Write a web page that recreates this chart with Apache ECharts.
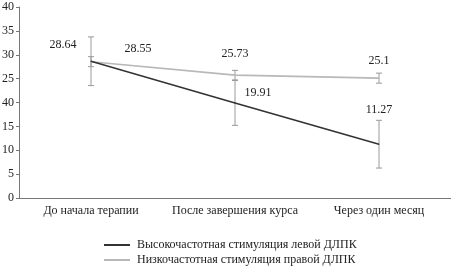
<!DOCTYPE html>
<html><head><meta charset="utf-8">
<script src="https://cdn.jsdelivr.net/npm/echarts@6/dist/echarts.min.js"></script>
<style>html,body{margin:0;padding:0;background:#fff}#c{width:451px;height:269px}</style>
</head><body><div id="c"></div>
<script>
var categories = ['До начала терапии', 'После завершения курса', 'Через один месяц'];
var seriesNames = ['Высокочастотная стимуляция левой ДЛПК', 'Низкочастотная стимуляция правой ДЛПК'];
var highValues = [28.64, 19.91, 11.27];
var lowValues = [28.55, 25.73, 25.1];
var highErr = [5.1, 4.7, 5.0];
var lowErr = [1.05, 1.0, 1.05];
var yTickLabels = ['0', '5', '10', '15', '40', '25', '30', '35', '40'];

var FONT = "'Liberation Serif', 'Times New Roman', serif";
var highOffsets = [[-28, -16], [23, -10], [0, -34]];
var lowOffsets = [[47, -13], [0, -21], [0, -17]];

function lineData(vals, offs) {
  return vals.map(function (v, i) {
    return { value: v, label: { offset: offs[i] } };
  });
}
function errData(vals, errs) {
  return vals.map(function (v, i) { return [i, v - errs[i], v + errs[i]]; });
}
function renderErr(params, api) {
  var x = api.value(0);
  var lo = api.coord([x, api.value(1)]);
  var hi = api.coord([x, api.value(2)]);
  var w = 3;
  var st = { stroke: '#9a9a9a', lineWidth: 1 };
  return {
    type: 'group',
    children: [
      { type: 'line', shape: { x1: hi[0], y1: hi[1], x2: lo[0], y2: lo[1] }, style: st },
      { type: 'line', shape: { x1: hi[0] - w, y1: hi[1], x2: hi[0] + w, y2: hi[1] }, style: st },
      { type: 'line', shape: { x1: lo[0] - w, y1: lo[1], x2: lo[0] + w, y2: lo[1] }, style: st }
    ]
  };
}

var chart = echarts.init(document.getElementById('c'));
chart.setOption({
  animation: false,
  backgroundColor: '#fff',
  grid: { left: 19, right: 0, top: 7, bottom: 71, containLabel: false, outerBoundsMode: 'none' },
  xAxis: {
    type: 'category', data: categories, boundaryGap: true,
    axisLine: { lineStyle: { color: '#777', width: 1 } },
    axisTick: { show: false },
    axisLabel: { color: '#222', fontSize: 12, fontFamily: FONT, margin: 7, interval: 0 }
  },
  yAxis: {
    type: 'value', min: 0, max: 40, interval: 5,
    splitLine: { show: false },
    axisLine: { show: true, lineStyle: { color: '#777', width: 1 } },
    axisTick: { show: true, length: 3, lineStyle: { color: '#777' } },
    axisLabel: {
      color: '#222', fontSize: 12, fontFamily: FONT, margin: 5,
      formatter: function (v, i) { return yTickLabels[Math.round(v / 5)]; }
    }
  },
  legend: {
    orient: 'vertical', left: 104, top: 238, padding: 0,
    itemWidth: 26, itemHeight: 2, itemGap: 1, icon: 'rect',
    textStyle: { fontSize: 12, lineHeight: 14, fontFamily: FONT, color: '#222', padding: [0, 0, 0, 2] },
    data: seriesNames
  },
  series: [
    {
      type: 'custom', name: 'errHigh', renderItem: renderErr, data: errData(highValues, highErr),
      encode: { x: 0, y: [1, 2] }, z: 1, silent: true
    },
    {
      type: 'custom', name: 'errLow', renderItem: renderErr, data: errData(lowValues, lowErr),
      encode: { x: 0, y: [1, 2] }, z: 1, silent: true
    },
    {
      type: 'line', name: seriesNames[0], data: lineData(highValues, highOffsets),
      color: '#333', lineStyle: { color: '#333', width: 1.6 },
      symbol: 'circle', symbolSize: 1, itemStyle: { color: '#333' }, z: 3,
      label: { show: true, position: 'inside', color: '#222', fontSize: 12, fontFamily: FONT }
    },
    {
      type: 'line', name: seriesNames[1], data: lineData(lowValues, lowOffsets),
      color: '#b8b8b8', lineStyle: { color: '#b8b8b8', width: 1.6 },
      symbol: 'circle', symbolSize: 1, itemStyle: { color: '#b8b8b8' }, z: 2,
      label: { show: true, position: 'inside', color: '#222', fontSize: 12, fontFamily: FONT }
    }
  ]
});
</script></body></html>
